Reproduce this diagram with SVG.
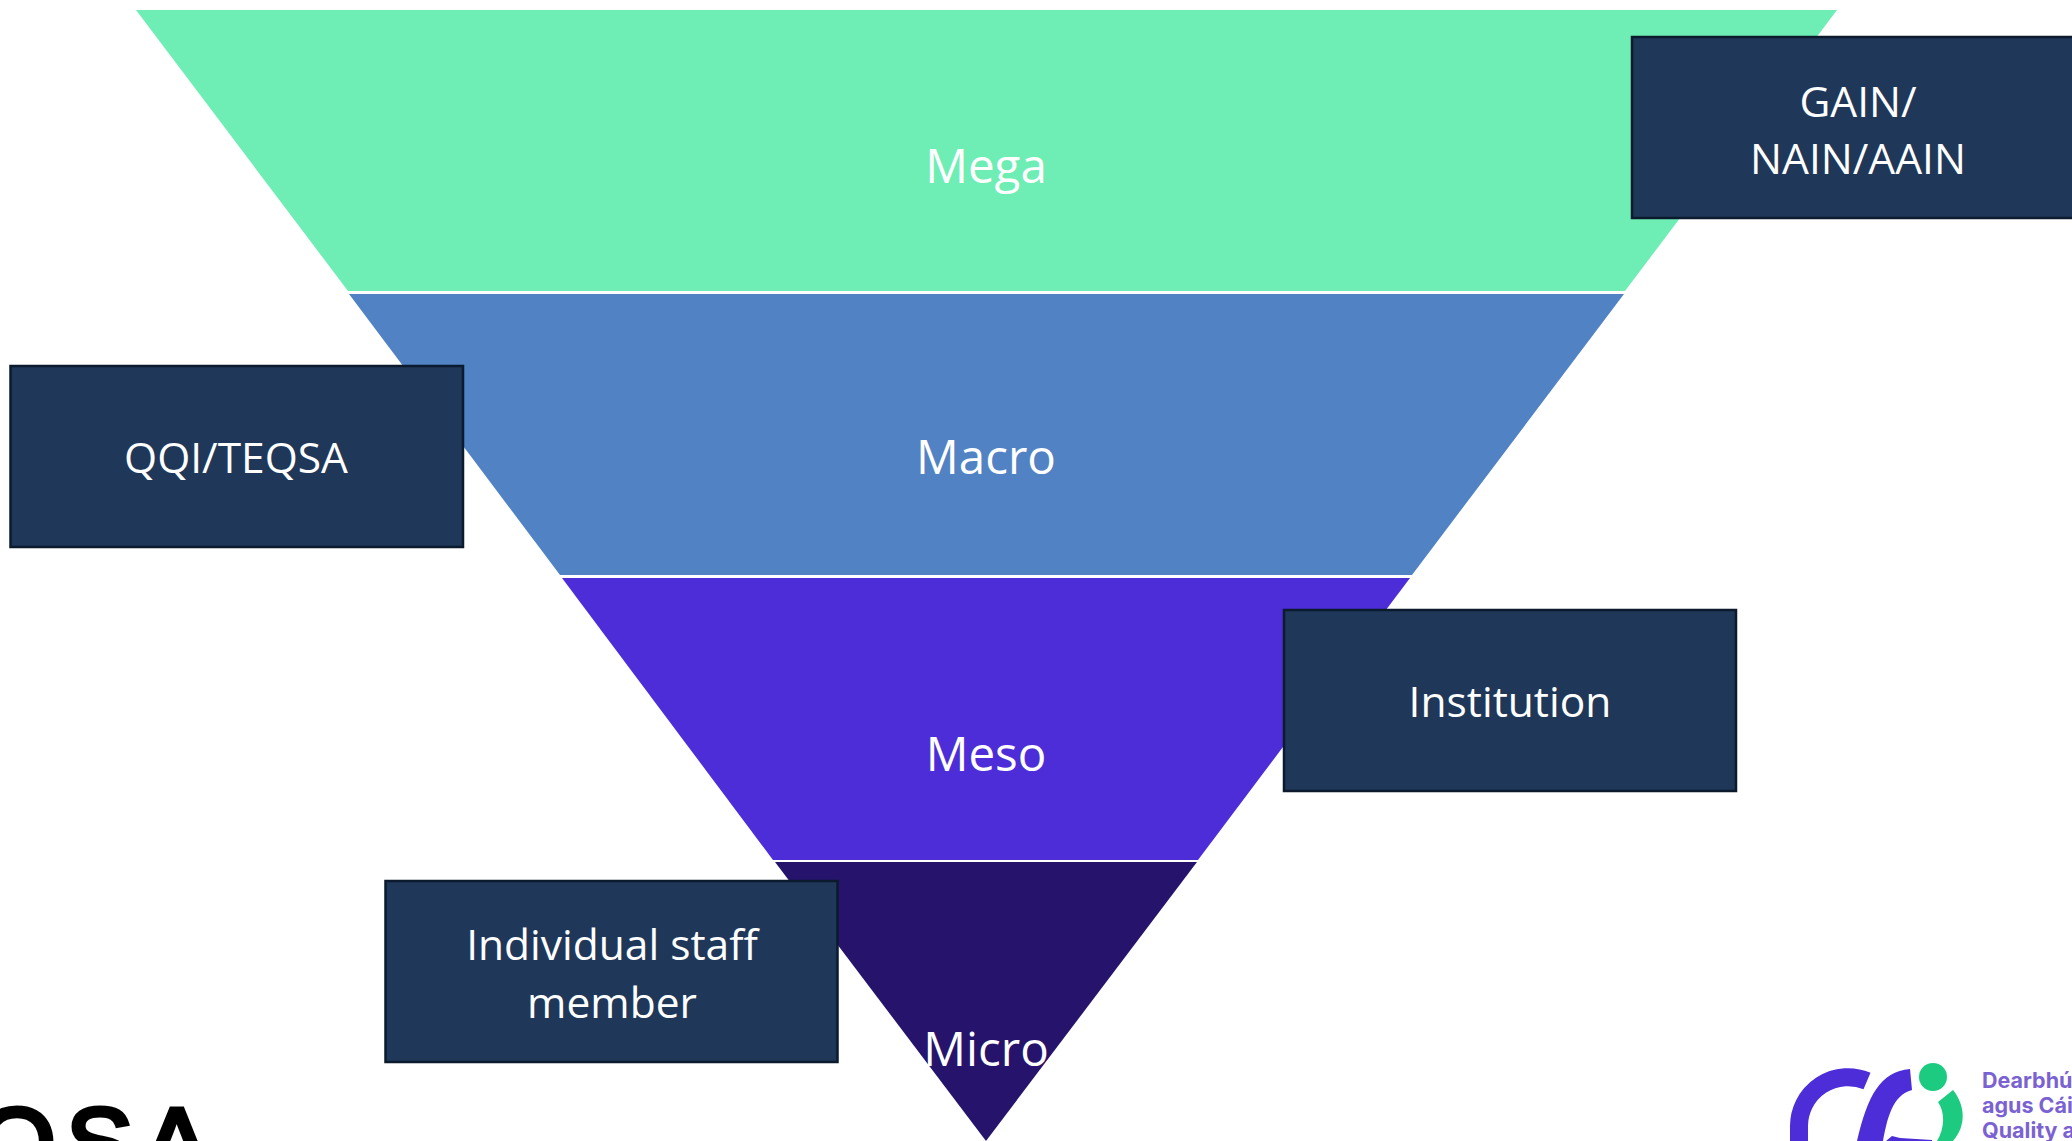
<svg xmlns="http://www.w3.org/2000/svg" width="2072" height="1141" viewBox="0 0 2072 1141">
<style>
.lvl{font-family:"Open Sans","Noto Sans",sans-serif;font-size:47.5px;fill:#fff;text-anchor:middle}
.bt{font-family:"Open Sans","Noto Sans",sans-serif;font-size:42.5px;fill:#fff;text-anchor:middle}
.box{fill:#1f3759;stroke:#0b1a2c;stroke-width:2.5}
.lg{font-family:"Inter","Noto Sans",sans-serif;font-size:21.5px;font-weight:700;fill:#7a62d2}
</style>
<rect width="2072" height="1141" fill="#fff"/>
<g id="level-mega"><polygon points="136,10 1837,10 1625,291 348,291" fill="#6eeeb5"/><text class="lvl" x="986" y="183">Mega</text></g>
<g id="level-macro"><polygon points="349,294 1624,294 1412,575 560,575" fill="#5182c4"/><text class="lvl" x="986" y="474">Macro</text></g>
<g id="level-meso"><polygon points="562,578 1410,578 1198,860 773,860" fill="#4c2dd8"/><text class="lvl" x="986" y="771">Meso</text></g>
<g id="level-micro"><polygon points="775,862 1197,862 986,1141" fill="#26136b"/><text class="lvl" x="986" y="1066">Micro</text></g>
<g id="box-gain"><rect class="box" x="1632" y="37" width="445" height="181"/><text class="bt" x="1858" y="117">GAIN/</text><text class="bt" x="1858" y="174">NAIN/AAIN</text></g>
<g id="box-qqi"><rect class="box" x="10.500" y="366" width="452.500" height="181"/><text class="bt" x="236" y="473">QQI/TEQSA</text></g>
<g id="box-institution"><rect class="box" x="1284" y="610" width="452" height="181"/><text class="bt" x="1510" y="717">Institution</text></g>
<g id="box-individual"><rect class="box" x="385.500" y="881" width="452" height="181"/><text class="bt" x="612" y="960">Individual staff</text><text class="bt" x="612" y="1018">member</text></g>
<g id="logo-teqsa"><text x="-22" y="1178" font-family="'Liberation Sans',sans-serif" font-size="100" stroke="#000" stroke-width="5" fill="#000" textLength="232">QSA</text></g>
<g id="logo-qqi">
<path d="M1867 1081A49 49 0 0 0 1799 1126V1160" fill="none" stroke="#4c2dd8" stroke-width="18"/>
<path d="M1910 1069C1880 1072 1868 1095 1857 1141H1883C1887 1120 1892 1095 1912 1090Z" fill="#4c2dd8"/>
<path d="M1886 1141L1892 1136L1900 1138L1932 1140V1141Z" fill="#4c2dd8"/>
<circle cx="1933" cy="1077" r="14" fill="#1ccb7f"/>
<path d="M1953 1090C1965 1105 1967 1125 1953 1141H1937C1945 1128 1945 1112 1938 1102Z" fill="#1ccb7f"/>
<text class="lg" x="1982" y="1088">Dearbhú</text>
<text class="lg" x="1982" y="1113">agus Cái</text>
<text class="lg" x="1982" y="1138">Quality a</text>
</g>
<g id="connectors"></g>
</svg>
